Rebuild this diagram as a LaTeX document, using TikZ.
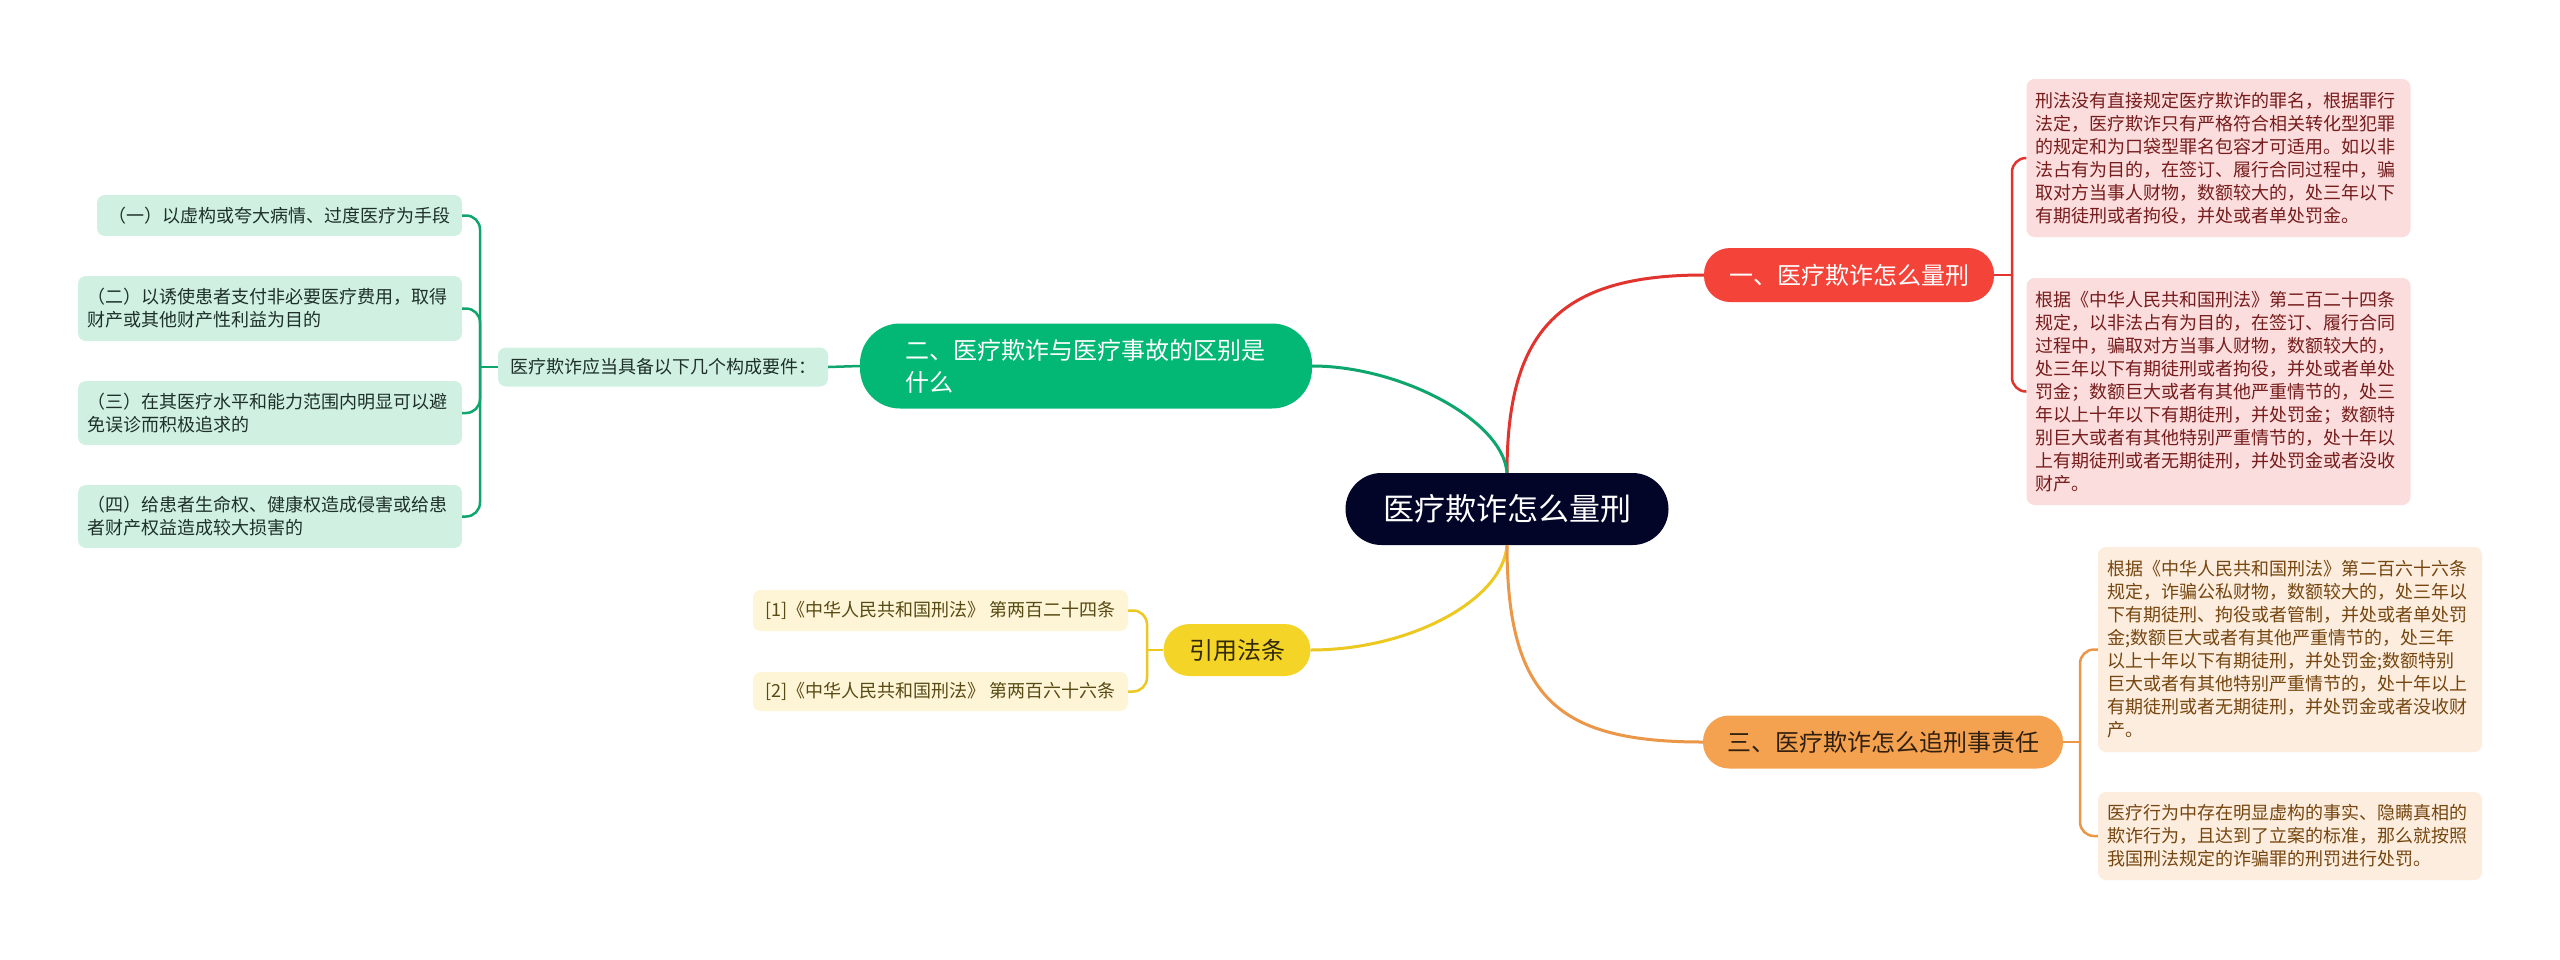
\documentclass[tikz,border=0pt]{standalone}
\usepackage{fontspec}
\setmainfont{Noto Sans CJK SC}

\definecolor{rootfill}{RGB}{2, 4, 40}
\definecolor{pred}{RGB}{244, 68, 58}
\definecolor{predline}{RGB}{226, 52, 46}
\definecolor{predleaf}{RGB}{252, 221, 221}
\definecolor{predtext}{RGB}{118, 28, 28}
\definecolor{porange}{RGB}{244, 162, 80}
\definecolor{porangeline}{RGB}{236, 150, 72}
\definecolor{porangeleaf}{RGB}{252, 237, 222}
\definecolor{porangetext}{RGB}{118, 70, 16}
\definecolor{pgreen}{RGB}{2, 184, 116}
\definecolor{pgreenline}{RGB}{14, 166, 108}
\definecolor{pgreenleaf}{RGB}{208, 241, 226}
\definecolor{pgreentext}{RGB}{30, 48, 40}
\definecolor{pyellow}{RGB}{245, 212, 40}
\definecolor{pyellowline}{RGB}{236, 200, 32}
\definecolor{pyellowleaf}{RGB}{253, 245, 214}
\definecolor{pyellowtext}{RGB}{88, 74, 20}

\tikzset{
    leafbox/.style = {
        rounded corners = 8pt,
        inner xsep      = 9pt,
        inner ysep      = 9pt,
        align           = left,
        font            = \fontsize{18}{23}\selectfont
    },
    branchbox/.style = {
        rounded corners = 26pt,
        inner xsep      = 14pt,
        font            = \fontsize{24}{32}\selectfont
    },
    link/.style = {line width = 3pt},
    fork/.style = {line width = 2.5pt, rounded corners = 14pt}
}

\begin{document}
\begin{tikzpicture}[x=1pt, y=1pt]
    \useasboundingbox[fill=white] (0,0) rectangle (2560,-959);

    % centre
    \node[
        fill            = rootfill,
        text            = white,
        rounded corners = 36pt,
        minimum width   = 323pt,
        minimum height  = 72pt,
        font            = \fontsize{31}{36}\selectfont
    ] (root) at (1507,-509) {医疗欺诈怎么量刑};

    % branches
    \node[branchbox, fill=pred, text=white,
          minimum width=290pt, minimum height=54pt]
        (penalty) at (1849,-275) {一、医疗欺诈怎么量刑};
    \node[branchbox, fill=porange, text=black!80!porange,
          minimum width=360pt, minimum height=53pt]
        (liability) at (1883,-742) {三、医疗欺诈怎么追刑事责任};
    \node[branchbox, fill=pgreen, text=white, rounded corners=40pt,
          text width=362pt, align=left, minimum height=85pt, inner xsep=45pt]
        (difference) at (1086,-366) {二、医疗欺诈与医疗事故的区别是\\什么};
    \node[branchbox, fill=pyellow, text=black!80!pyellow,
          minimum width=147pt, minimum height=52pt]
        (statutes) at (1237,-650) {引用法条};

    % red leaves
    \node[leafbox, fill=predleaf, text=predtext, text width=366pt,
          minimum height=158pt]
        (penaltyA) at (2218.5,-158) {刑法没有直接规定医疗欺诈的罪名，根据罪行\\
        法定，医疗欺诈只有严格符合相关转化型犯罪\\
        的规定和为口袋型罪名包容才可适用。如以非\\
        法占有为目的，在签订、履行合同过程中，骗\\
        取对方当事人财物，数额较大的，处三年以下\\
        有期徒刑或者拘役，并处或者单处罚金。};
    \node[leafbox, fill=predleaf, text=predtext, text width=366pt,
          minimum height=227pt]
        (penaltyB) at (2218.5,-391.5) {根据《中华人民共和国刑法》第二百二十四条\\
        规定，以非法占有为目的，在签订、履行合同\\
        过程中，骗取对方当事人财物，数额较大的，\\
        处三年以下有期徒刑或者拘役，并处或者单处\\
        罚金；数额巨大或者有其他严重情节的，处三\\
        年以上十年以下有期徒刑，并处罚金；数额特\\
        别巨大或者有其他特别严重情节的，处十年以\\
        上有期徒刑或者无期徒刑，并处罚金或者没收\\
        财产。};

    % orange leaves
    \node[leafbox, fill=porangeleaf, text=porangetext, text width=366pt,
          minimum height=205pt]
        (liabilityA) at (2290,-649.5) {根据《中华人民共和国刑法》第二百六十六条\\
        规定，诈骗公私财物，数额较大的，处三年以\\
        下有期徒刑、拘役或者管制，并处或者单处罚\\
        金;数额巨大或者有其他严重情节的，处三年\\
        以上十年以下有期徒刑，并处罚金;数额特别\\
        巨大或者有其他特别严重情节的，处十年以上\\
        有期徒刑或者无期徒刑，并处罚金或者没收财\\
        产。};
    \node[leafbox, fill=porangeleaf, text=porangetext, text width=366pt,
          minimum height=88pt]
        (liabilityB) at (2290,-836) {医疗行为中存在明显虚构的事实、隐瞒真相的\\
        欺诈行为，且达到了立案的标准，那么就按照\\
        我国刑法规定的诈骗罪的刑罚进行处罚。};

    % green leaves
    \node[leafbox, fill=pgreenleaf, text=pgreentext,
          minimum width=330pt, minimum height=39pt, inner xsep=12pt]
        (elements) at (663,-367) {医疗欺诈应当具备以下几个构成要件：};
    \node[leafbox, fill=pgreenleaf, text=pgreentext,
          minimum width=365pt, minimum height=41pt]
        (elementA) at (279.5,-215.5) {（一）以虚构或夸大病情、过度医疗为手段};
    \node[leafbox, fill=pgreenleaf, text=pgreentext, text width=366pt,
          minimum height=65pt]
        (elementB) at (270,-308.5) {（二）以诱使患者支付非必要医疗费用，取得\\
        财产或其他财产性利益为目的};
    \node[leafbox, fill=pgreenleaf, text=pgreentext, text width=366pt,
          minimum height=64pt]
        (elementC) at (270,-413) {（三）在其医疗水平和能力范围内明显可以避\\
        免误诊而积极追求的};
    \node[leafbox, fill=pgreenleaf, text=pgreentext, text width=366pt,
          minimum height=63pt]
        (elementD) at (270,-516.5) {（四）给患者生命权、健康权造成侵害或给患\\
        者财产权益造成较大损害的};

    % yellow leaves
    \node[leafbox, fill=pyellowleaf, text=pyellowtext,
          minimum width=375pt, minimum height=41pt]
        (statuteA) at (940.5,-610.5) {[1]《中华人民共和国刑法》 第两百二十四条};
    \node[leafbox, fill=pyellowleaf, text=pyellowtext,
          minimum width=375pt, minimum height=39pt]
        (statuteB) at (940.5,-691.5) {[2]《中华人民共和国刑法》 第两百六十六条};

    % main curves
    \draw[link, predline] (root.north) .. controls (1507,-330) and (1560,-275) .. (penalty.west);
    \draw[link, pgreenline] (root.north) .. controls (1503,-420) and (1400,-366) .. (difference.east);
    \draw[link, pyellowline] (root.south) .. controls (1503,-600) and (1410,-650) .. (statutes.east);
    \draw[link, porangeline] (root.south) .. controls (1507,-700) and (1560,-742) .. (liability.west);

    % forks
    \coordinate (penaltyFork) at (2012,-275);
    \draw[fork, predline] (penalty.east) -- (penaltyFork);
    \draw[fork, predline] (penaltyFork) |- (penaltyA.west);
    \draw[fork, predline] (penaltyFork) |- (penaltyB.west);

    \coordinate (liabilityFork) at (2080,-742);
    \draw[fork, porangeline] (liability.east) -- (liabilityFork);
    \draw[fork, porangeline] (liabilityFork) |- (liabilityA.west);
    \draw[fork, porangeline] (liabilityFork) |- (liabilityB.west);

    \draw[fork, pgreenline] (difference.west) -- (elements.east);
    \coordinate (elementsFork) at (480,-367);
    \draw[fork, pgreenline] (elements.west) -- (elementsFork);
    \draw[fork, pgreenline] (elementsFork) |- (elementA.east);
    \draw[fork, pgreenline] (elementsFork) |- (elementB.east);
    \draw[fork, pgreenline] (elementsFork) |- (elementC.east);
    \draw[fork, pgreenline] (elementsFork) |- (elementD.east);

    \coordinate (statutesFork) at (1147,-650);
    \draw[fork, pyellowline] (statutes.west) -- (statutesFork);
    \draw[fork, pyellowline] (statutesFork) |- (statuteA.east);
    \draw[fork, pyellowline] (statutesFork) |- (statuteB.east);
\end{tikzpicture}
\end{document}
